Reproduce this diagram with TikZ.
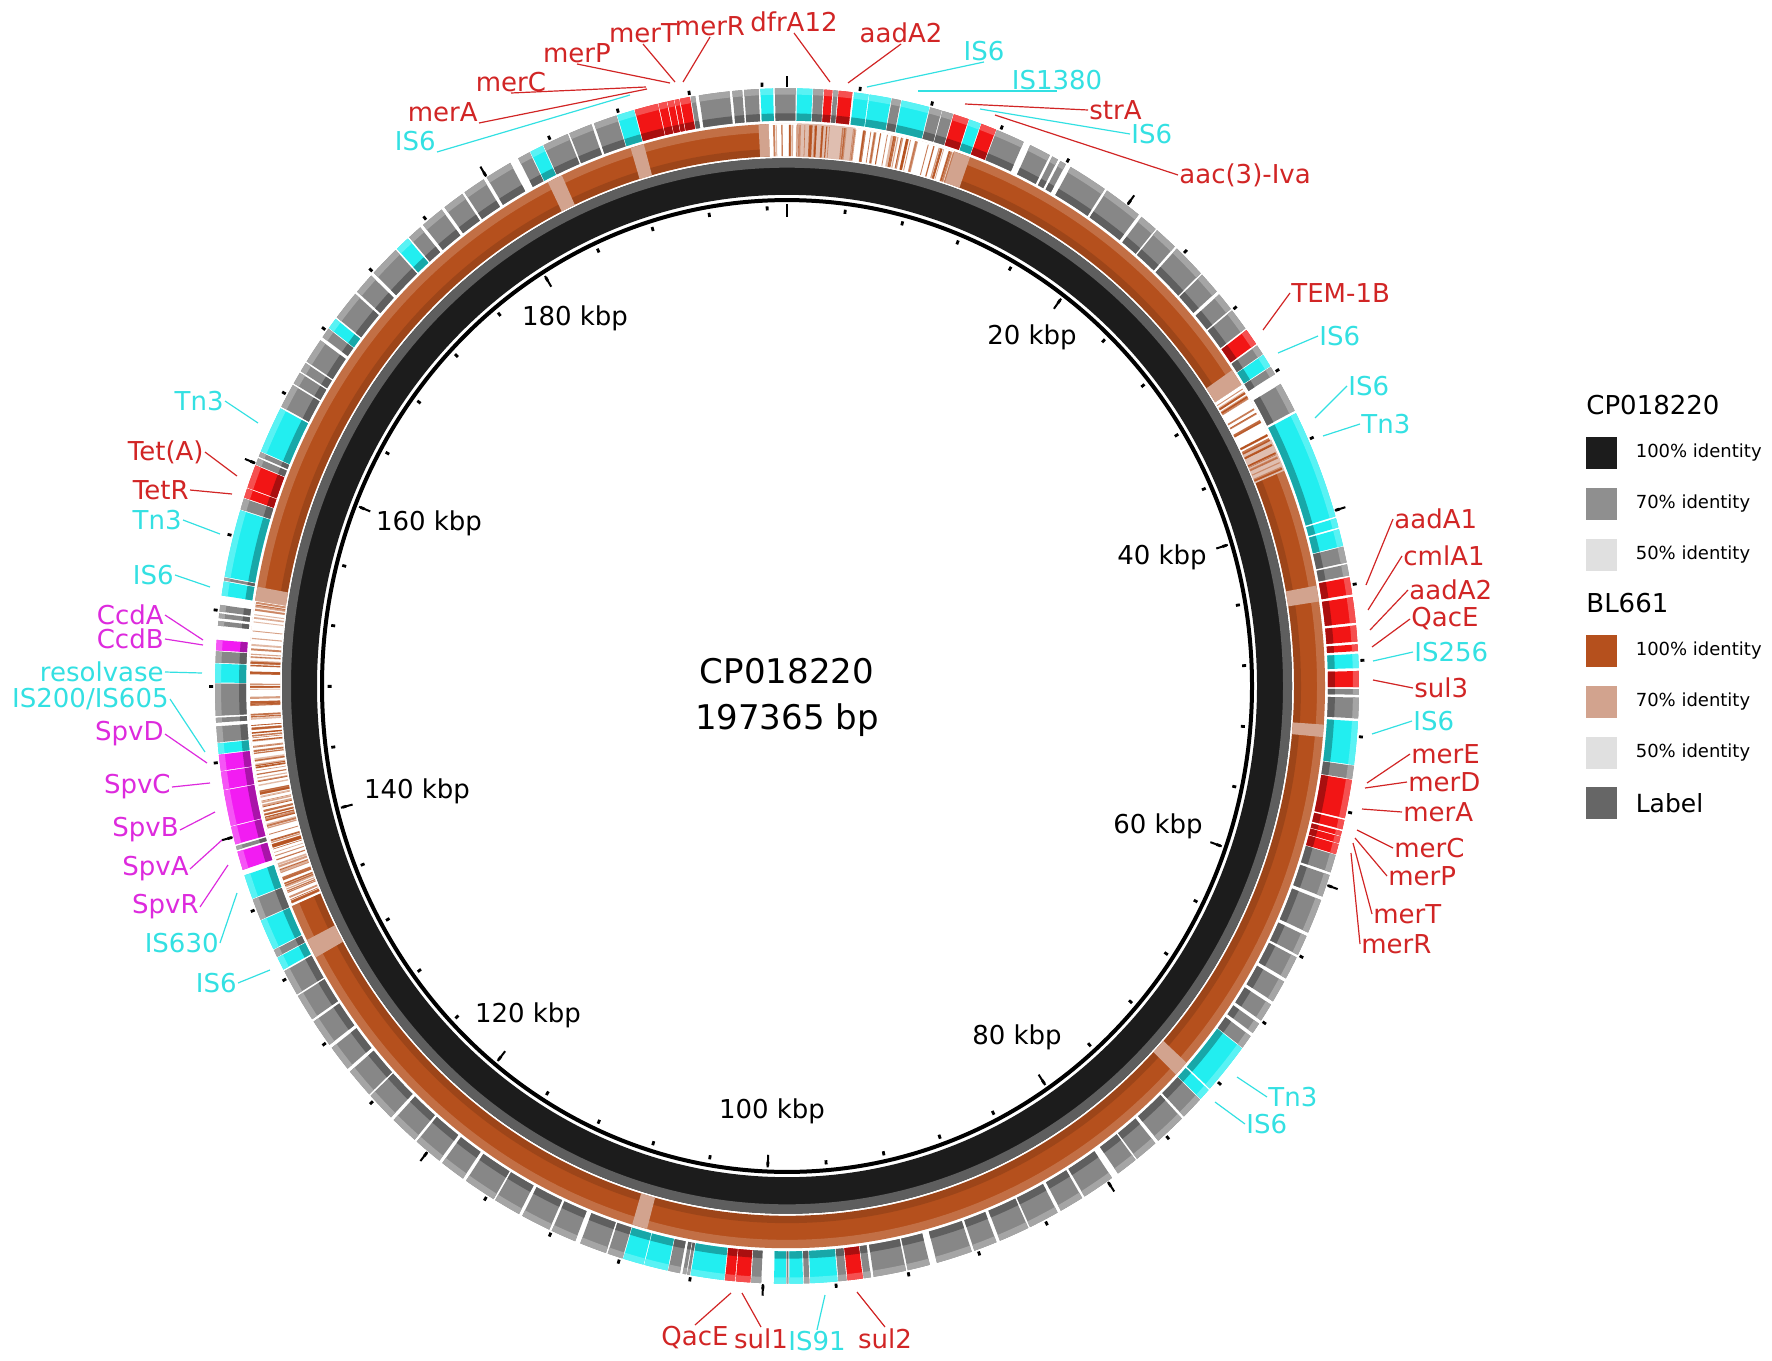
\documentclass[tikz,border=0pt]{standalone}
\usepackage{fontspec}
\setmainfont{DejaVu Sans}
\usetikzlibrary{positioning}

\definecolor{refblack}{HTML}{1C1C1C}
\definecolor{bandgray}{HTML}{5E5E5E}
\definecolor{id70}{HTML}{8F8F8F}
\definecolor{id50}{HTML}{E0E0E0}
\definecolor{bl100}{HTML}{B5501D}
\definecolor{bl70}{HTML}{D2A38E}
\definecolor{labgray}{HTML}{666666}
\definecolor{fgray}{HTML}{878787}
\definecolor{fred}{HTML}{F21515}
\definecolor{fcyan}{HTML}{22EEF0}
\definecolor{fmag}{HTML}{F21CF2}
\definecolor{tred}{HTML}{D12525}
\definecolor{tcyan}{HTML}{33E0E2}
\definecolor{tmag}{HTML}{DD2ADD}

\newcommand{\arcseg}[5]{%
  \pgfmathsetmacro{\segA}{#2/197.365*360-90}%
  \pgfmathsetmacro{\segB}{#3/197.365*360-90}%
  \fill[#1] (\segA:#4) arc[start angle=\segA, end angle=\segB, radius=#4]
    -- (\segB:#5) arc[start angle=\segB, end angle=\segA, radius=#5] -- cycle;}
\newcommand{\blk}[3]{%
  \arcseg{#1}{#2}{#3}{541}{572}%
  \arcseg{#1!70!black}{#2}{#3}{541}{548}%
  \arcseg{#1!75!white}{#2}{#3}{566}{572}}

\begin{document}
\begin{tikzpicture}[x=0.5pt, y=-0.5pt,
    glabel/.style={font=\fontsize{13}{15}\selectfont, inner sep=0.5pt},
    lead/.style={line width=0.6pt},
    kbplab/.style={font=\fontsize{13}{15}\selectfont},
    tickmark/.style={line width=1.4pt},
    majortick/.style={line width=1pt},
    legsq/.style={minimum width=15.5pt, minimum height=16pt, inner sep=0pt},
    legtxt/.style={font=\fontsize{9}{11}\selectfont, inner sep=0pt}]
\useasboundingbox (0,0) rectangle (1772,1360);

\begin{scope}[shift={(787,686)}, yscale=1.045]
  \draw[line width=2pt] (0,0) circle[radius=465];
  \fill[refblack, even odd rule] (0,0) circle[radius=505] (0,0) circle[radius=470];
  \fill[bandgray, even odd rule] (0,0) circle[radius=505] (0,0) circle[radius=496];
  \fill[bl100, even odd rule] (0,0) circle[radius=538] (0,0) circle[radius=507];
  \fill[white, opacity=.18, even odd rule] (0,0) circle[radius=538] (0,0) circle[radius=530];
  \fill[black, opacity=.13, even odd rule] (0,0) circle[radius=514] (0,0) circle[radius=507];
  \foreach \fa/\fb in {43.7/44.6, 51.5/52.2, 72.4/73.3, 106.95/107.85, 132.2/133.3,
      182.9/183.8, 188.1/188.9, 195.7/196.3, 9.9/10.9, 30.6/31.6, 152.8/153.6}
    \arcseg{bl70}{\fa}{\fb}{507}{538};
  \foreach \fa/\fb in {196.3/197.965, 4.0/9.9, 31.6/35.1, 135.4/152.8}
    \arcseg{white}{\fa}{\fb}{506.5}{538.5};
  \foreach \fa/\fb in {0.6/4.0, 35.1/37.0}
    \arcseg{bl70!70!white}{\fa}{\fb}{506.5}{538.5};
  \pgfmathsetseed{42}
  \foreach \fa/\fb/\fn in {196.3/197.965/8, 0.6/4.0/22, 4.0/9.9/38, 31.6/35.1/22,
      35.1/37.0/12, 135.4/152.8/120}
    \foreach \j in {1,...,\fn} {
      \pgfmathsetmacro{\stp}{\fa+rnd*(\fb-\fa)}
      \pgfmathsetmacro{\stq}{\stp+0.03+0.1*rnd}
      \pgfmathsetmacro{\sto}{0.35+0.6*rnd}
      \arcseg{bl100, opacity=\sto}{\stp}{\stq}{507}{537}
    }

  \foreach \fc/\fa/\fb in {fgray/196.7/197.85, fcyan/0.55/1.4, fgray/1.45/2.0, fred/2.05/2.5,
      fgray/2.55/2.8, fred/2.85/3.6, fcyan/3.7/4.5, fcyan/4.55/5.75, fgray/5.8/6.3,
      fcyan/6.35/7.9, fgray/7.95/8.6, fgray/8.65/9.25, fred/9.3/10.15, fcyan/10.2/10.85,
      fred/10.9/11.75, fgray/11.8/13.4, fgray/13.8/15.0, fgray/15.15/15.5, fgray/15.65/16.0,
      fgray/16.3/18.5, fgray/18.65/20.8, fgray/21.0/22.0, fgray/22.1/23.4, fgray/23.55/25.4,
      fgray/25.5/26.7, fgray/26.9/27.9, fgray/28.0/29.2, fred/29.3/30.2, fgray/30.3/30.85,
      fcyan/30.9/31.6, fgray/31.65/32.1, fgray/32.7/34.3, fcyan/34.45/40.3, fcyan/40.4/40.9,
      fcyan/41.0/41.9, fgray/41.95/42.8, fgray/42.9/43.5, fred/43.6/44.5, fred/44.65/46.0,
      fred/46.15/47.0, fred/47.15/47.5, fcyan/47.65/48.4, fred/48.55/49.4, fgray/49.5/49.8,
      fgray/49.95/51.05, fcyan/51.2/53.5, fgray/53.55/54.25, fred/54.3/56.35, fred/56.45/56.95,
      fred/57.05/57.3, fred/57.35/57.7, fred/57.75/58.3, fgray/58.35/59.3, fgray/59.45/60.65,
      fgray/60.85/62.7, fgray/62.9/64.0, fgray/64.15/65.4, fgray/65.6/66.8, fgray/67.0/68.0,
      fgray/68.2/68.8, fgray/69.0/69.75, fcyan/69.8/72.55, fcyan/72.65/73.3, fgray/73.35/74.6,
      fgray/74.75/76.5, fgray/76.7/78.0, fgray/78.1/79.3, fgray/79.7/81.5, fgray/81.65/83.0,
      fgray/83.2/84.9, fgray/85.0/86.7, fgray/86.9/88.2, fgray/88.35/90.35, fgray/90.75/92.0,
      fgray/92.1/93.9, fgray/94.05/94.45, fred/94.5/95.35, fgray/95.4/95.85, fcyan/95.9/97.4,
      fgray/97.45/97.75, fcyan/97.8/98.55, fgray/98.6/98.7, fcyan/98.75/99.4, fgray/100.1/100.65,
      fred/100.7/101.5, fred/101.55/102.1, fcyan/102.15/104.0, fgray/104.05/104.2,
      fgray/104.25/104.45, fgray/104.6/105.25, fcyan/105.3/106.6, fcyan/106.65/107.8,
      fgray/107.85/108.7, fgray/108.8/110.3, fgray/110.6/112.0, fgray/112.15/113.8,
      fgray/114.0/115.5, fgray/115.6/117.4, fgray/117.6/119.0, fgray/119.2/120.8,
      fgray/120.95/122.5, fgray/122.7/124.3, fgray/124.4/126.0, fgray/126.2/127.6,
      fgray/127.8/129.3, fgray/129.45/130.9, fgray/131.0/132.4, fcyan/132.5/133.2,
      fgray/133.25/133.65, fcyan/133.7/135.35, fgray/135.4/136.55, fcyan/136.6/137.9,
      fmag/138.2/139.2, fgray/139.3/139.5, fmag/139.6/140.55, fmag/140.6/142.5,
      fmag/142.55/143.5, fmag/143.55/144.4, fcyan/144.45/145.0, fgray/145.05/145.9,
      fgray/146.1/146.35, fgray/146.45/148.15, fcyan/148.2/149.2, fgray/149.25/149.85,
      fmag/149.9/150.45, fgray/151.2/151.45, fgray/151.6/151.85, fgray/151.95/152.3,
      fcyan/152.8/153.55, fgray/153.6/153.75, fcyan/153.8/157.4, fgray/157.45/158.05,
      fred/158.1/158.6, fred/158.65/159.9, fgray/159.95/160.3, fgray/160.4/160.65,
      fcyan/160.7/163.2, fgray/163.3/164.6, fgray/164.7/165.35, fgray/165.45/165.95,
      fgray/166.05/167.4, fgray/167.6/168.15, fcyan/168.2/168.8, fgray/168.9/170.5,
      fgray/170.65/171.8, fgray/172.0/173.7, fcyan/173.8/174.6, fgray/174.7/175.5,
      fgray/175.7/177.0, fgray/177.2/178.4, fgray/178.55/179.8, fgray/180.0/181.5,
      fgray/182.0/182.7, fcyan/182.75/183.5, fgray/183.55/185.0, fgray/185.1/186.4,
      fgray/186.55/187.85, fcyan/187.9/188.85, fred/188.9/190.2, fred/190.25/190.7,
      fred/190.75/191.1, fred/191.15/191.4, fred/191.45/192.0, fgray/192.05/192.3,
      fgray/192.5/194.2, fgray/194.35/194.9, fgray/195.0/195.8, fcyan/195.9/196.6}
    \blk{\fc}{\fa}{\fb};

  \foreach \k in {0,4,...,196} {
    \pgfmathsetmacro{\tka}{\k/197.365*360-90}
    \draw[tickmark] (\tka:455.5) -- (\tka:459.5);
    \draw[tickmark] (\tka:574) -- (\tka:578);
  }
  \foreach \k in {0,20,...,180} {
    \pgfmathsetmacro{\tka}{\k/197.365*360-90}
    \draw[majortick] (\tka:449) -- (\tka:461);
    \draw[majortick] (\tka:573) -- (\tka:584);
  }
\end{scope}

\node[font=\fontsize{17}{23}\selectfont, align=center] (title) at (787,697) {CP018220\\197365 bp};

\foreach \k/\x/\y in {20/1032/337, 40/1162/557, 60/1158/826, 80/1017/1037, 100/772/1111,
    120/528/1015, 140/417/791, 160/429/523, 180/575/318}
  \node[kbplab] (k\k) at (\x,\y) {\k\ kbp};

\foreach \txt/\col/\nx/\ny/\anc/\ex/\ey [count=\i] in {
    merA/tred/479/123/south east/647/89, IS6/tcyan/437/152/south east/630/95,
    merC/tred/511/93/south/646/87, merP/tred/577/64/south/670/83,
    merT/tred/643/44/south/675/82, merR/tred/710/37/south/683/82,
    dfrA12/tred/794/33/south/830/82, aadA2/tred/901/44/south/848/83,
    IS6/tcyan/984/62/south/867/87, IS1380/tcyan/1057/91/south/918/91,
    strA/tred/1088/110/west/965/104, IS6/tcyan/1130/134/west/980/109,
    aac(3)-Iva/tred/1178/175/west/995/115,
    TEM-1B/tred/1290/293/west/1263/330, IS6/tcyan/1318/336/west/1278/353,
    IS6/tcyan/1347/386/west/1315/418, Tn3/tcyan/1360/424/west/1323/436,
    aadA1/tred/1393/519/west/1366/585, cmlA1/tred/1402/556/west/1368/610,
    aadA2/tred/1408/590/west/1370/630, QacE/tred/1410/619/west/1372/647,
    IS256/tcyan/1413/652/west/1373/661, sul3/tred/1413/688/west/1373/680,
    IS6/tcyan/1412/721/west/1372/734, merE/tred/1410/754/west/1367/783,
    merD/tred/1407/782/west/1365/788, merA/tred/1402/812/west/1362/809,
    merC/tred/1393/848/west/1357/830, merP/tred/1387/876/west/1355/838,
    merT/tred/1372/914/west/1353/843, merR/tred/1360/944/west/1351/853,
    Tn3/tcyan/1267/1097/west/1237/1077, IS6/tcyan/1245/1124/west/1215/1102,
    QacE/tred/695/1325/north/731/1293, sul1/tred/761/1327/north/742/1293,
    IS91/tcyan/817/1330/north/825/1295, sul2/tred/885/1327/north/857/1292,
    Tn3/tcyan/225/401/east/258/423, Tet(A)/tred/205/452/east/237/476,
    TetR/tred/190/490/east/232/494, Tn3/tcyan/183/520/east/220/534,
    IS6/tcyan/175/575/east/210/587, CcdA/tmag/165/615/east/203/640,
    CcdB/tmag/165/639/east/203/645, resolvase/tcyan/165/672/east/202/673,
    {IS200/IS605}/tcyan/170/699/east/205/752, SpvD/tmag/165/734/east/207/763,
    SpvC/tmag/172/787/east/210/783, SpvB/tmag/180/830/east/215/812,
    SpvA/tmag/190/869/east/222/840, SpvR/tmag/200/907/east/228/865,
    IS630/tcyan/220/943/east/237/893, IS6/tcyan/238/983/east/270/970} {
  \node[glabel, text=\col, anchor=\anc] (g\i) at (\nx,\ny) {\txt};
  \coordinate (e\i) at (\ex,\ey);
  \draw[lead, draw=\col] (e\i) -- (g\i.\anc);
}

\node[anchor=west, inner sep=0pt, font=\fontsize{13}{15}\selectfont] (hdA) at (1586,405) {CP018220};
\node[legsq, fill=refblack] (sqA) at (1601.5,453) {};
\node[legsq, fill=id70, below=9pt of sqA] (sqB) {};
\node[legsq, fill=id50, below=9pt of sqB] (sqC) {};
\node[anchor=west, inner sep=0pt, font=\fontsize{13}{15}\selectfont] (hdB) at (1586,603) {BL661};
\node[legsq, fill=bl100] (sqD) at (1601.5,651) {};
\node[legsq, fill=bl70, below=9pt of sqD] (sqE) {};
\node[legsq, fill=id50, below=9pt of sqE] (sqF) {};
\node[legsq, fill=labgray, below=9pt of sqF] (sqG) {};
\node[legtxt, right=9pt of sqA] (tA) {100\% identity};
\node[legtxt, right=9pt of sqB] (tB) {70\% identity};
\node[legtxt, right=9pt of sqC] (tC) {50\% identity};
\node[legtxt, right=9pt of sqD] (tD) {100\% identity};
\node[legtxt, right=9pt of sqE] (tE) {70\% identity};
\node[legtxt, right=9pt of sqF] (tF) {50\% identity};
\node[legtxt, font=\fontsize{12.5}{15}\selectfont, right=9pt of sqG] (tG) {Label};
\end{tikzpicture}
\end{document}
